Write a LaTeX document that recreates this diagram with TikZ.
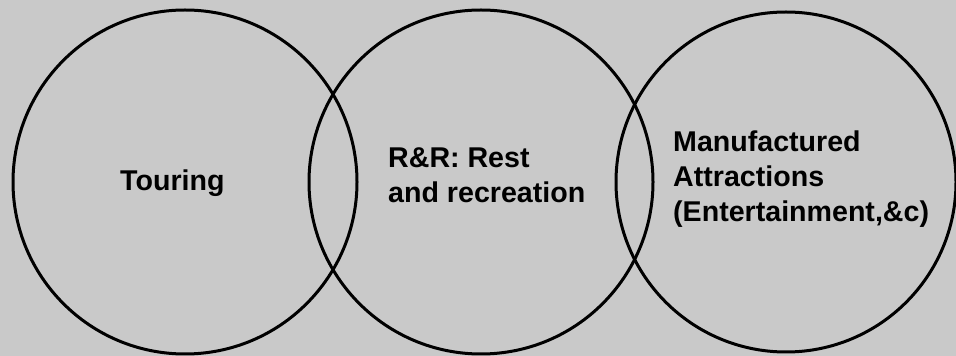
\documentclass[tikz,border=0pt]{standalone}
\usepackage{fontspec}
\setmainfont{Liberation Sans}
\usepackage{tikz}
\definecolor{bggray}{RGB}{201,201,201}
\tikzset{ring/.style={draw=black,line width=3pt},
	lbl/.style={anchor=north west,inner sep=0pt,align=left,
		font=\fontsize{28.6}{35}\selectfont\bfseries}}

\begin{document}
\begin{tikzpicture}[x=1pt,y=1pt]
				\fill[bggray] (0,0) rectangle (956,356);
				\useasboundingbox (0,0) rectangle (956,356);
				\draw[ring] (185,174) circle (172);
				\draw[ring] (481,174) circle (172);
				\draw[ring] (786,174) circle (170);
				\node[lbl] (touring) at (120,186){Touring};
				\node[lbl] (rest) at (388,208){R\&R: Rest\\and recreation};
				\node[lbl] (manuf) at (673,225.5){Manufactured\\Attractions\\(Entertainment,\&c)};
			\end{tikzpicture}
\end{document}
